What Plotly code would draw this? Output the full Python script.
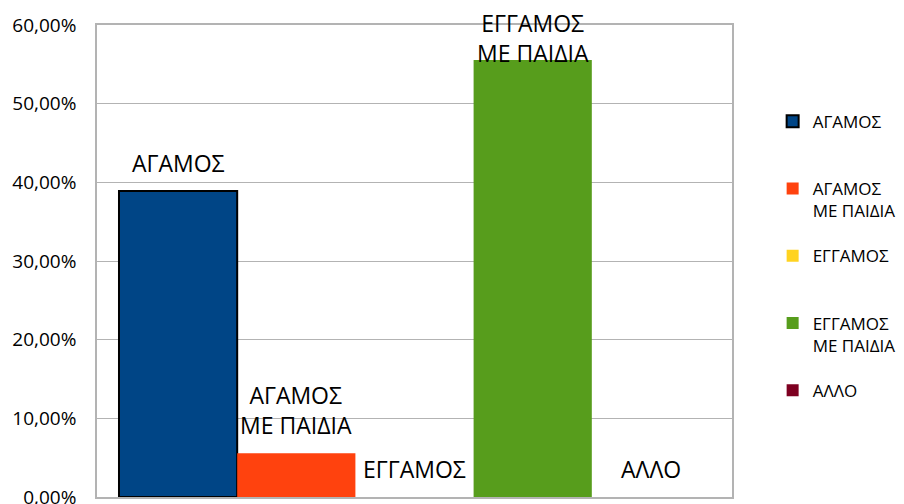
import plotly.graph_objects as go

series_names = ["ΑΓΑΜΟΣ", "ΑΓΑΜΟΣ ΜΕ ΠΑΙΔΙΑ", "ΕΓΓΑΜΟΣ", "ΕΓΓΑΜΟΣ ΜΕ ΠΑΙΔΙΑ", "ΑΛΛΟ"]
series_labels = ["ΑΓΑΜΟΣ", "ΑΓΑΜΟΣ<br>ΜΕ ΠΑΙΔΙΑ", "ΕΓΓΑΜΟΣ", "ΕΓΓΑΜΟΣ<br>ΜΕ ΠΑΙΔΙΑ", "ΑΛΛΟ"]
series_values = [0.3889, 0.0556, 0.0, 0.5556, 0.0]
series_colors = ["#004586", "#ff420e", "#ffd320", "#579d1c", "#7e0021"]
y_tick_values = [0, 0.1, 0.2, 0.3, 0.4, 0.5, 0.6]

FONT = "Open Sans"
Y_MAX = 0.6

fig = go.Figure()
for i, (name, lab, val, col) in enumerate(zip(series_names, series_labels, series_values, series_colors)):
    leg = lab if "<br>" in lab else lab + "<br>\u00a0"
    fig.add_trace(go.Bar(
        x=[name], y=[val], name=leg, width=1,
        marker=dict(color=col, line=dict(color="#000000", width=2 if i == 0 else 0)),
        legendgroup=f"g{i}", showlegend=True,
    ))
    near_top = val / Y_MAX > 0.85
    fig.add_annotation(
        x=name, y=Y_MAX if near_top else val, xref="x", yref="y",
        text=lab, showarrow=False,
        yanchor="top" if near_top else "bottom",
        yshift=20 if near_top else 10,
        font=dict(family=FONT, size=23, color="#000000"),
    )

# page body has an 8px margin, so the figure is sized/offset to compensate
fig.update_layout(
    width=896, height=496,
    margin=dict(l=89, r=172, t=17, b=7, autoexpand=False),
    paper_bgcolor="white", plot_bgcolor="white",
    barmode="overlay",
    separators=",.",
    font=dict(family=FONT, size=17, color="#000000"),
    showlegend=True,
    legend=dict(
        x=1.064, xanchor="left", y=0.833, yanchor="top",
        traceorder="grouped", tracegroupgap=20, valign="top",
        itemwidth=30, borderwidth=0,
        font=dict(family=FONT, size=17, color="#000000"),
        bgcolor="rgba(0,0,0,0)",
    ),
    xaxis=dict(
        range=[-0.686, 4.686], showticklabels=False, showgrid=False,
        showline=True, mirror=True, linecolor="#b3b3b3", linewidth=1.5,
        ticks="", zeroline=False, fixedrange=True,
    ),
    yaxis=dict(
        range=[0, Y_MAX], tickvals=y_tick_values, tickformat=".2%",
        showgrid=True, gridcolor="#b3b3b3", gridwidth=1,
        showline=True, mirror=True, linecolor="#b3b3b3", linewidth=1.5,
        ticks="", zeroline=False, ticklabelstandoff=15,
        ticklabeloverflow="allow",
        tickfont=dict(family=FONT, size=19, color="#000000"),
    ),
)

fig.write_html("out.html")
